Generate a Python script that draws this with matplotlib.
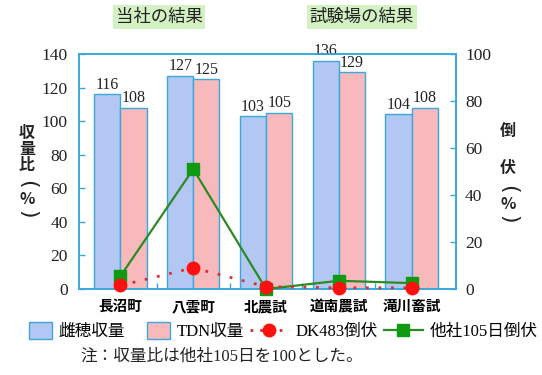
import matplotlib
matplotlib.use("Agg")
import matplotlib.pyplot as plt
import numpy as np
from matplotlib.patches import Rectangle, Patch
from matplotlib.lines import Line2D
from matplotlib.legend_handler import HandlerPatch

SERIF = ['Liberation Serif', 'Noto Sans CJK JP']
GOTHIC = ['Noto Sans CJK JP', 'DejaVu Sans']

sites = ['長沼町', '八雲町', '北農試', '道南農試', '滝川畜試']
ear_yield = [116, 127, 103, 136, 104]        # 雌穂収量 (%)
tdn_yield = [108, 125, 105, 129, 108]        # TDN収量 (%)
dk483_lodging = [1.5, 9, 1, 0.5, 0.5]        # DK483倒伏 (%)
other_lodging = [5.5, 51, 0, 3.5, 2.5]       # 他社105日倒伏 (%)
yield_ticks = [0, 20, 40, 60, 80, 100, 120, 140]
lodging_ticks = [0, 20, 40, 60, 80, 100]

SPINE = '#3aa8dc'
BLUE = '#b3c7f3'
PINK = '#f8b9bd'
RED = '#ff1010'
GREEN_LINE = '#2b8a22'
GREEN_MARK = '#0f9a12'

W, H = 542, 375
fig = plt.figure(figsize=(W / 100, H / 100), dpi=100)
ax = fig.add_axes([79 / W, 86 / H, 377 / W, 235 / H])

x = np.arange(len(sites))
bw = 0.36
bars1 = ax.bar(x - bw / 2, ear_yield, bw, color=BLUE, edgecolor=SPINE, linewidth=1.0)
bars2 = ax.bar(x + bw / 2, tdn_yield, bw, color=PINK, edgecolor=SPINE, linewidth=1.0)
for bars in (bars1, bars2):
    ax.bar_label(bars, padding=1, fontsize=11.5, family=SERIF, color='#222222')

ax.set_xlim(-0.57, 4.61)
ax.set_ylim(0, 140)
ax.set_yticks(yield_ticks)
ax.set_yticklabels([str(v) for v in yield_ticks], family=SERIF, fontsize=12.5)
ax.set_xticks(x)
ax.set_xticklabels(sites, family=GOTHIC, fontsize=10.5, fontweight='bold')
ax.set_xticks(x[:-1] + 0.5, minor=True)
ax.tick_params(axis='x', which='major', length=0, pad=6.5)
ax.tick_params(axis='x', which='minor', direction='in', length=4, color=SPINE, width=1)
ax.tick_params(axis='y', direction='in', length=4, color=SPINE, width=1, pad=8,
               labelcolor='#222222')
for s in ax.spines.values():
    s.set_color(SPINE)
    s.set_linewidth(1.2)

ax2 = ax.twinx()
ax2.set_ylim(0, 100)
ax2.set_yticks(lodging_ticks)
ax2.set_yticklabels([str(v) for v in lodging_ticks], family=SERIF, fontsize=12.5)
ax2.tick_params(axis='y', direction='in', length=4, color=SPINE, width=1, pad=6.5,
                labelcolor='#222222')
for s in ax2.spines.values():
    s.set_color(SPINE)
    s.set_linewidth(1.2)

ax2.plot(x, other_lodging, color=GREEN_LINE, lw=1.6, marker='s', ms=9,
         mfc=GREEN_MARK, mec=GREEN_MARK, clip_on=False, zorder=3)
ax2.plot(x, dk483_lodging, color='#d83030', lw=2, linestyle=(0, (1, 3.5)),
         marker='o', ms=9, mfc=RED, mec=RED, clip_on=False, zorder=4)

# Headers above the two groups of sites
hdr = dict(ha='center', va='center', fontsize=12.5, family=GOTHIC, color='#222222',
           bbox=dict(facecolor='#d3f1c3', edgecolor='none', pad=2))
fig.text(159 / W, 1 - 17 / H, '当社の結果', **hdr)
fig.text(362 / W, 1 - 17 / H, '試験場の結果', **hdr)


# Vertical axis titles: one character per line, brackets turned sideways
def vertical(xpx, chars, ys):
    for ch, ypx in zip(chars, ys):
        if ch in '()':
            fig.text(xpx / W, 1 - ypx / H, ch, ha='center', va='center',
                     fontsize=16, family='DejaVu Sans', color='#222222',
                     rotation=-90, rotation_mode='anchor')
        else:
            fig.text(xpx / W, 1 - ypx / H, ch, ha='center', va='center',
                     fontsize=11.5, family=GOTHIC, fontweight='bold',
                     color='#222222')


vertical(27, ['収', '量', '比', '(', '%', ')'], [133, 149, 165, 184, 199, 214])
vertical(508, ['倒', '伏', '(', '%', ')'], [131, 168, 189, 204, 219])


class SmallPatch(HandlerPatch):
    def create_artists(self, legend, orig_handle, xdescent, ydescent, width,
                       height, fontsize, trans):
        pw = width * 0.58
        p = Rectangle((width - pw - xdescent, -ydescent - 2), pw, height + 4,
                      facecolor=orig_handle.get_facecolor(),
                      edgecolor=orig_handle.get_edgecolor(), linewidth=1.0,
                      transform=trans)
        return [p]


handles = [
    Patch(facecolor=BLUE, edgecolor=SPINE),
    Patch(facecolor=PINK, edgecolor=SPINE),
    Line2D([], [], color='#d83030', lw=2, linestyle=(0, (1, 2.5)), marker='o',
           ms=9, mfc=RED, mec=RED),
    Line2D([], [], color=GREEN_LINE, lw=1.6, marker='s', ms=9, mfc=GREEN_MARK,
           mec=GREEN_MARK),
]
labels = ['雌穂収量', 'TDN収量', 'DK483倒伏', '他社105日倒伏']
fig.legend(handles, labels, loc='center', bbox_to_anchor=(275 / W, 1 - 332 / H),
           ncol=4, frameon=False, prop=dict(family=SERIF, size=12),
           handlelength=2.35, handletextpad=0.4, columnspacing=0.35,
           borderpad=0, handler_map={Patch: SmallPatch()})

fig.text(80 / W, 1 - 357 / H, '注：収量比は他社105日を100とした。', ha='left',
         va='center', fontsize=12, family=SERIF, color='#222222')

fig.savefig('out.png', dpi=100)
